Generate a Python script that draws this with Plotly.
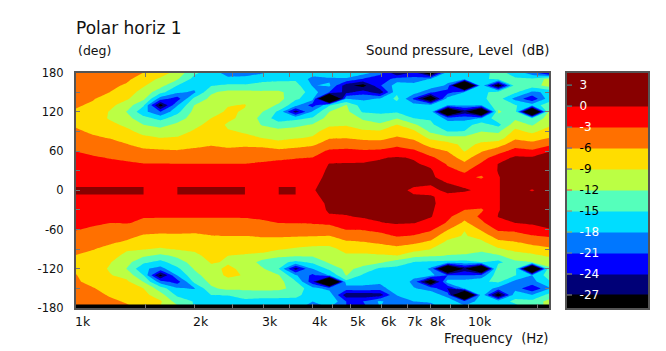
import numpy as np
import plotly.graph_objects as go

# ---- data -----------------------------------------------------------------
ANGLES_DEG = list(range(180, -181, -10))
FREQ_HZ = [1000 * 2 ** (k / 7) for k in range(29)]
X_TICKS = [1000, 1500, 2000, 2500, 3000, 3500, 4000, 4500, 5000, 6000, 7000, 8000, 9000, 10000, 15000]
X_LABELS = ["1k", "", "2k", "", "3k", "", "4k", "", "5k", "6k", "7k", "8k", "", "10k", ""]
Y_TICKS = list(range(-180, 181, 30))
Y_LABELS = [str(v) if v % 60 == 0 else "" for v in Y_TICKS]
LEVELS = [-27, -24, -21, -18, -15, -12, -9, -6, -3, 0]
BAND_COLORS = ["#000000", "#000077", "#0000FF", "#0077FF", "#00DDFF", "#55FFBB",
               "#BBFF44", "#FFDD00", "#FF7000", "#FF0000", "#880000"]
CB_TICKS = [3, 0, -3, -6, -9, -12, -15, -18, -21, -24, -27]
CB_TEXT_COLORS = ["#FFFFFF", "#FFFFFF", "#FFFFFF", "#000000", "#000000", "#000000",
                  "#000000", "#FFFFFF", "#FFFFFF", "#FFFFFF", "#FFFFFF"]
CB_TICK_COLORS = ["#33AAAA", "#22AAAA", "#22AAAA", "#4466CC", "#4466CC", "#EE4444",
                  "#AA7766", "#BBAA33", "#888866", "#AAAA33", "#999999"]
# cells of the 0 deg row that rise above 0 dB (1 = above)
AXIS_ROW_ABOVE = [1,1,1,1,0,0,1,1,1,1,0,0,1,0,0,0,0,0,0,0,0,0,0,0,0,0,0,0]

# one list per frequency, from +180 deg down to -180 deg
c00 = [-4.0,-4.3,-4.7,-5.0,-5.4,-5.7,-6.3,-6.7,-6.3,-5.6,-5.0,-4.0,-3.05,-2.5,-2.0,-1.5,-1.0,-0.6,-0.1,
       -0.6,-1.0,-1.4,-1.9,-2.4,-2.9,-3.6,-4.4,-5.2,-6.1,-6.6,-6.4,-5.9,-5.6,-5.2,-4.9,-4.6,-4.3]
c01 = [-4.3,-4.6,-5.0,-5.4,-5.8,-6.4,-7.0,-7.4,-7.3,-6.4,-5.6,-4.5,-3.5,-2.8,-2.2,-1.7,-1.2,-0.7,-0.1,
       -0.7,-1.2,-1.7,-2.2,-2.7,-3.3,-4.1,-5.0,-5.9,-6.6,-7.2,-7.5,-7.4,-6.9,-5.8,-5.3,-4.9,-4.5]
c02 = [-4.6,-4.9,-5.3,-6.0,-7.2,-8.2,-9.2,-9.3,-8.2,-7.2,-6.1,-5.0,-4.1,-3.1,-2.6,-2.0,-1.4,-0.8,-0.1,
       -0.8,-1.4,-2.0,-2.5,-3.0,-3.9,-4.8,-5.7,-6.7,-7.7,-8.8,-9.3,-8.8,-7.9,-7.1,-6.2,-5.6,-5.0]
c03 = [-5.0,-5.4,-6.4,-7.7,-8.6,-10.5,-12.1,-11.0,-9.6,-8.3,-6.9,-5.9,-4.7,-3.4,-2.7,-2.0,-1.4,-0.8,-0.1,
       -0.8,-1.4,-2.0,-2.5,-2.9,-4.1,-5.3,-6.4,-8.6,-9.9,-11.0,-12.1,-10.0,-8.4,-7.6,-6.9,-6.2,-5.6]
c04 = [-6.0,-7.5,-8.7,-10.0,-11.3,-14.6,-17.0,-14.0,-12.0,-9.9,-8.4,-6.8,-5.5,-3.9,-2.9,-2.2,-1.5,-0.9,-0.1,
       -0.9,-1.5,-2.2,-2.9,-3.3,-5.0,-6.3,-7.6,-8.9,-11.5,-14.4,-17.5,-15.0,-12.1,-9.0,-8.0,-7.0,-6.5]
c05 = [-7.5,-9.5,-10.9,-14.0,-19.5,-28.5,-21.0,-16.0,-13.0,-10.8,-9.0,-7.3,-5.6,-4.3,-2.9,-2.2,-1.5,-0.9,-0.1,
       -0.9,-1.5,-2.2,-2.8,-3.8,-5.2,-6.5,-7.9,-9.3,-12.7,-16.0,-19.0,-28.2,-19.5,-13.5,-10.8,-8.6,-9.2]
c06 = [-10.0,-11.7,-15.0,-17.4,-22.5,-18.2,-15.8,-13.5,-11.3,-10.0,-8.8,-7.3,-5.8,-4.4,-2.95,-2.2,-1.5,-0.9,-0.1,
       -0.9,-1.5,-2.2,-2.8,-3.8,-5.2,-6.4,-7.6,-8.8,-11.4,-13.4,-15.6,-17.8,-22.5,-17.6,-15.6,-13.3,-11.0]
c07 = [-14.3,-16.0,-16.8,-18.5,-14.2,-12.0,-11.2,-10.6,-9.7,-8.7,-7.7,-6.5,-5.6,-4.3,-2.95,-2.2,-1.5,-0.9,-0.1,
       -0.9,-1.5,-2.2,-2.8,-3.7,-5.3,-6.5,-7.6,-8.5,-9.7,-10.8,-11.8,-12.9,-14.3,-18.3,-15.5,-15.2,-15.0]
c08 = [-16.5,-16.5,-15.2,-12.4,-11.3,-10.6,-9.8,-9.0,-8.2,-7.5,-6.8,-6.2,-5.1,-3.9,-2.95,-2.2,-1.5,-0.9,-0.1,
       -0.9,-1.5,-2.2,-2.8,-3.7,-5.1,-6.1,-6.8,-7.5,-8.1,-8.8,-9.6,-10.6,-11.3,-12.5,-15.0,-16.5,-16.5]
c09 = [-19.5,-17.2,-14.5,-11.2,-10.2,-9.1,-8.7,-8.7,-9.2,-8.9,-7.9,-6.7,-5.3,-4.0,-2.95,-2.2,-1.5,-0.9,-0.1,
       -0.9,-1.5,-2.2,-2.8,-3.7,-5.0,-6.0,-7.0,-8.2,-9.0,-9.2,-8.6,-8.4,-10.0,-11.2,-14.9,-16.0,-16.5]
c10 = [-19.0,-17.3,-14.5,-11.2,-9.6,-8.9,-9.2,-9.4,-9.3,-9.1,-8.8,-6.5,-5.0,-3.9,-2.95,-2.2,-1.6,-1.0,-0.1,
       -1.0,-1.6,-2.2,-2.8,-3.6,-4.8,-6.0,-7.2,-8.3,-9.2,-9.5,-9.5,-9.2,-9.8,-11.2,-14.0,-15.6,-16.0]
c11 = [-18.4,-16.2,-13.7,-11.6,-10.8,-10.5,-11.8,-13.0,-12.2,-10.0,-9.0,-6.8,-5.0,-3.7,-2.7,-2.0,-1.4,-0.8,-0.3,
       -0.8,-1.4,-2.0,-2.6,-3.4,-4.7,-5.8,-7.0,-8.2,-9.6,-13.2,-11.5,-10.6,-10.3,-11.0,-14.0,-16.0,-16.5]
c12 = [-16.7,-15.8,-13.5,-11.6,-10.8,-12.4,-15.6,-16.6,-13.6,-10.9,-9.7,-7.9,-5.3,-3.5,-2.3,-1.7,-1.1,-0.5,-0.1,
       -0.5,-1.1,-1.7,-2.3,-3.0,-4.4,-5.7,-7.3,-8.8,-11.3,-14.0,-15.0,-11.8,-10.8,-11.2,-14.0,-16.0,-16.5]
c13 = [-16.0,-15.5,-13.8,-13.0,-14.5,-17.0,-25.5,-15.8,-12.9,-10.5,-9.2,-7.0,-5.0,-3.2,-2.0,-1.5,-1.0,-0.5,-0.1,
       -0.5,-1.0,-1.5,-2.1,-2.9,-4.6,-5.8,-7.6,-9.4,-11.6,-15.8,-25.5,-17.6,-14.6,-13.0,-14.2,-16.0,-17.0]
c14 = [-16.5,-19.0,-18.2,-16.5,-16.6,-22.5,-17.6,-14.7,-11.7,-9.8,-8.7,-6.5,-4.2,-3.0,-1.9,-1.2,-0.7,-0.3,-0.1,
       -0.3,-0.7,-1.2,-2.0,-2.8,-4.2,-5.9,-8.0,-9.8,-11.6,-14.4,-18.0,-21.8,-23.0,-16.9,-16.5,-18.0,-20.0]
c15 = [-15.5,-18.6,-17.5,-21.0,-45.0,-15.3,-12.0,-10.6,-9.4,-7.8,-6.2,-4.5,-2.6,-1.2,0.1,0.4,0.5,0.5,0.5,
       0.4,0.3,0.3,-0.2,-2.5,-4.3,-6.1,-8.1,-9.8,-10.5,-11.5,-14.3,-17.8,-45.0,-19.0,-16.0,-15.0,-18.0]
c16 = [-16.2,-18.3,-26.0,-25.0,-18.2,-11.8,-11.2,-10.1,-9.2,-7.6,-6.1,-4.0,-2.5,-1.1,0.2,0.5,0.6,0.6,0.6,
       0.6,0.6,0.4,-0.1,-1.5,-2.9,-4.7,-6.5,-8.2,-9.4,-10.5,-11.2,-11.8,-16.0,-19.5,-26.0,-21.0,-21.0]
c17 = [-16.5,-21.3,-28.5,-22.5,-18.5,-16.7,-15.4,-12.4,-10.9,-8.4,-6.6,-4.6,-2.7,-1.2,0.3,0.6,0.7,0.7,0.7,
       0.7,0.7,0.5,0.2,-0.6,-2.8,-4.5,-6.2,-8.0,-9.5,-10.7,-13.0,-15.5,-16.8,-19.0,-26.0,-21.0,-22.0]
c18 = [-19.5,-23.5,-21.3,-26.0,-17.8,-16.7,-15.5,-13.9,-11.4,-8.7,-6.8,-4.6,-2.5,-0.2,0.4,0.7,0.8,0.8,0.8,
       0.8,0.8,0.6,0.4,-0.1,-2.2,-3.9,-5.6,-7.5,-9.3,-11.5,-15.6,-16.8,-17.2,-19.5,-25.5,-17.5,-18.0]
c19 = [-27.5,-19.5,-16.5,-15.6,-14.2,-16.4,-15.4,-12.1,-8.9,-7.5,-5.6,-3.6,-1.8,0.2,0.5,0.7,0.8,0.8,0.8,
       0.8,0.8,0.7,0.4,0.2,-1.0,-2.8,-5.0,-6.8,-9.0,-13.5,-15.8,-16.0,-15.1,-15.6,-17.8,-20.0,-18.0]
c20 = [-23.5,-19.8,-16.8,-16.5,-21.6,-16.8,-15.7,-15.0,-11.4,-8.4,-6.5,-4.7,-2.5,-0.2,0.3,0.5,0.5,0.5,-0.5,
       0.3,0.5,0.5,0.4,0.1,-1.5,-3.2,-5.5,-7.8,-11.0,-15.1,-16.0,-17.0,-19.0,-17.8,-16.5,-18.0,-22.0]
c21 = [-32.0,-17.8,-16.0,-20.5,-32.0,-17.2,-16.0,-15.2,-14.6,-12.6,-9.7,-7.0,-4.8,-2.5,-0.5,0.3,0.5,0.2,-0.7,
       0.2,0.5,0.4,0.2,-1.0,-2.5,-4.6,-6.6,-9.0,-11.6,-15.5,-18.5,-17.0,-32.0,-19.0,-16.5,-17.5,-20.0]
c22 = [-16.5,-17.0,-18.6,-22.5,-16.5,-17.8,-38.0,-19.0,-16.5,-15.1,-11.0,-7.8,-6.1,-4.7,-3.3,-2.3,-1.3,0.1,0.6,
       -0.7,-1.2,-1.7,-2.4,-3.3,-5.8,-7.9,-9.8,-10.9,-12.1,-15.8,-38.0,-21.0,-16.5,-24.2,-19.0,-16.5,-16.5]
c23 = [-16.0,-17.5,-45.0,-17.9,-16.5,-17.6,-26.0,-19.0,-16.3,-14.9,-11.0,-9.8,-9.2,-7.2,-5.4,-3.4,-2.2,-0.6,0.3,
       -1.0,-1.7,-3.0,-4.9,-6.7,-8.9,-9.3,-10.0,-10.8,-12.3,-16.0,-26.0,-21.0,-16.5,-17.5,-45.0,-19.5,-17.0]
c24 = [-16.0,-15.4,-15.9,-15.7,-15.6,-18.0,-38.0,-17.8,-13.5,-12.0,-10.0,-8.5,-6.3,-4.2,-2.6,-1.6,-3.4,-1.5,-0.5,
       -1.2,-1.5,-3.4,-2.4,-3.6,-5.6,-7.8,-9.8,-11.5,-12.8,-15.0,-38.0,-20.0,-15.4,-16.0,-15.6,-17.0,-17.0]
c25 = [-14.0,-14.5,-30.0,-14.0,-13.6,-12.9,-11.6,-13.0,-16.0,-12.5,-10.5,-7.3,-4.2,-1.5,0.1,0.1,-0.1,-0.1,-0.1,
       -0.1,-0.1,-0.1,0.1,-0.8,-2.5,-4.6,-6.9,-9.4,-12.4,-16.0,-11.8,-13.0,-14.5,-19.0,-30.0,-16.0,-15.0]
c26 = [-16.3,-14.6,-13.5,-14.4,-19.0,-14.8,-13.6,-12.6,-10.2,-8.2,-6.5,-4.3,-1.9,0.5,0.8,1.0,1.0,1.0,1.0,
       1.0,1.0,1.0,0.8,0.0,-2.3,-4.2,-6.3,-8.2,-10.2,-12.6,-13.6,-14.8,-19.0,-19.3,-15.8,-14.5,-16.0]
c27 = [-20.0,-14.5,-13.5,-18.5,-23.5,-16.5,-42.0,-15.0,-12.3,-9.7,-7.3,-5.0,-2.5,0.3,1.0,1.2,1.2,1.0,-0.2,
       1.0,1.2,1.2,1.1,0.5,-1.5,-3.2,-5.2,-7.4,-9.7,-12.0,-42.0,-18.0,-19.0,-23.5,-18.0,-14.0,-14.0]
c28 = [-26.0,-11.0,-10.7,-17.5,-16.5,-13.5,-11.2,-10.5,-9.6,-7.6,-6.0,-3.7,-0.1,0.8,1.2,1.3,1.3,1.2,1.2,
       1.2,1.3,1.3,1.3,1.0,-0.2,-2.7,-4.6,-6.6,-8.6,-10.8,-12.5,-13.5,-15.5,-18.5,-14.0,-11.0,-11.0]
COLUMNS = [c00, c01, c02, c03, c04, c05, c06, c07, c08, c09, c10, c11, c12, c13, c14, c15,
           c16, c17, c18, c19, c20, c21, c22, c23, c24, c25, c26, c27, c28]
# ---------------------------------------------------------------------------

z = np.array(COLUMNS).T
W, H = 666, 351
M = 12
PLOT = (76, 549, 72.5, 308)
BAR = (567, 648, 72.5, 308)


def px(x):
    return (x - M) / (W - 2 * M)


def py(y):
    return 1 - (y - M) / (H - 2 * M)


n = len(BAND_COLORS)
contour_scale = [[i / (n - 1), c] for i, c in enumerate(BAND_COLORS)]
step_scale = []
for i, c in enumerate(BAND_COLORS):
    step_scale += [[i / n, c], [(i + 1) / n, c]]
GREY = "#555555"
FONT = "DejaVu Sans"
INK = "#111111"

fig = go.Figure()
fig.add_trace(go.Contour(
    x=FREQ_HZ, y=ANGLES_DEG, z=z, autocontour=False,
    contours=dict(start=LEVELS[0], end=LEVELS[-1], size=3, coloring="fill", showlines=False),
    line=dict(width=0, smoothing=0), colorscale=contour_scale, showscale=False, hoverinfo="skip"))

# 0 deg row segments above 0 dB
strip_x, strip_y = [], []
for f0, f1, above in zip(FREQ_HZ[:-1], FREQ_HZ[1:], AXIS_ROW_ABOVE):
    if above:
        strip_x += [f0, f1, f1, f0, f0, None]
        strip_y += [-6.6, -6.6, 5, 5, -6.6, None]
fig.add_trace(go.Scatter(x=strip_x, y=strip_y, mode="lines", fill="toself", fillcolor=BAND_COLORS[-1],
                         line=dict(width=0, color=BAND_COLORS[-1]), hoverinfo="skip"))
# bottom row below the last level
fig.add_trace(go.Scatter(x=[FREQ_HZ[0], FREQ_HZ[-1], FREQ_HZ[-1], FREQ_HZ[0], FREQ_HZ[0]],
                         y=[-180, -180, -174.5, -174.5, -180], mode="lines", fill="toself",
                         fillcolor=BAND_COLORS[0], line=dict(width=0, color=BAND_COLORS[0]), hoverinfo="skip"))

# scale bar
edges = [-28.86] + LEVELS + [4.8]
fig.add_trace(go.Heatmap(
    x=[0, 1], y=edges, z=[[(a + b) / 2] for a, b in zip([-30] + LEVELS, LEVELS + [3])],
    xaxis="x2", yaxis="y2", colorscale=step_scale, zmin=-30, zmax=3, showscale=False, hoverinfo="skip"))

axis_line = dict(showline=True, linecolor=GREY, linewidth=2, showgrid=False, zeroline=False)
x_label_notes = [
    dict(text=t, xref="x", yref="paper", x=np.log10(v), y=py(321), xanchor="left", yanchor="middle",
         xshift=-3, showarrow=False, font=dict(family=FONT, size=12.5, color=INK))
    for v, t in zip(X_TICKS, X_LABELS) if t
]
fig.update_layout(
    width=W, height=H, autosize=False, margin=dict(l=M, r=M, t=M, b=M, autoexpand=False),
    paper_bgcolor="white", plot_bgcolor="white", showlegend=False,
    font=dict(family=FONT, size=12, color=INK),
    title=dict(text="Polar horiz 1", x=76 / W, xanchor="left", y=1 - 28 / H, yanchor="middle",
               font=dict(family=FONT, size=17, color=INK)),
    xaxis=dict(type="log", domain=[px(PLOT[0]), px(PLOT[1])],
               range=[np.log10(FREQ_HZ[0]), np.log10(FREQ_HZ[-1])],
               tickmode="array", tickvals=X_TICKS, showticklabels=False, ticks="inside", ticklen=4,
               tickcolor="#777777", mirror="ticks", **axis_line),
    yaxis=dict(domain=[py(PLOT[3]), py(PLOT[2])], range=[-180, 180],
               tickmode="array", tickvals=Y_TICKS, ticktext=Y_LABELS, ticks="inside", ticklen=4,
               tickcolor="#777777", mirror="ticks", ticklabelstandoff=8,
               tickfont=dict(family=FONT, size=11.5, color=INK), **axis_line),
    xaxis2=dict(domain=[px(BAR[0]), px(BAR[1])], range=[0, 1], anchor="y2", showticklabels=False,
                ticks="", showline=True, linecolor=GREY, linewidth=2, mirror=True, showgrid=False, zeroline=False),
    yaxis2=dict(domain=[py(BAR[3]), py(BAR[2])], range=[edges[0], edges[-1]], anchor="x2",
                tickmode="array", tickvals=CB_TICKS,
                ticktext=[f'<span style="color:{c}">{v}</span>' for v, c in zip(CB_TICKS, CB_TEXT_COLORS)],
                ticks="", ticklabelposition="inside", ticklabelstandoff=12,
                showline=True, linecolor=GREY, linewidth=2, mirror=True, showgrid=False, zeroline=False,
                tickfont=dict(family=FONT, size=12)),
    shapes=[dict(type="line", xref="x2", yref="y2", x0=0, x1=5 / (BAR[1] - BAR[0]), y0=v, y1=v,
                 line=dict(color=c, width=1)) for v, c in zip(CB_TICKS, CB_TICK_COLORS)],
    annotations=x_label_notes + [
        dict(text="(deg)", xref="paper", yref="paper", x=px(76), y=py(50), xanchor="left",
             yanchor="middle", showarrow=False, font=dict(family=FONT, size=12.5, color=INK)),
        dict(text="Sound pressure, Level  (dB)", xref="paper", yref="paper", x=px(PLOT[1] + 1.5), y=py(50),
             xanchor="right", yanchor="middle", showarrow=False, font=dict(family=FONT, size=13.3, color=INK)),
        dict(text="Frequency  (Hz)", xref="paper", yref="paper", x=px(PLOT[1] + 1.5), y=py(338),
             xanchor="right", yanchor="middle", showarrow=False, font=dict(family=FONT, size=13.3, color=INK)),
    ],
)
fig.write_html("out.html", config=dict(displayModeBar=False),
               post_script="document.body.style.margin='0';")
